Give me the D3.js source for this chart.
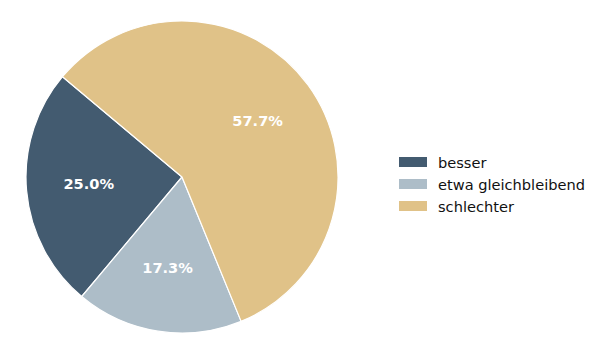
<!DOCTYPE html>
<html>
<head>
<meta charset="utf-8">
<script src="https://cdn.jsdelivr.net/npm/d3@7"></script>
<style>
	body { margin: 0; background: #fff; }
	text { font-family: "DejaVu Sans", sans-serif; }
</style>
</head>
<body>
<div id="wrapper"></div>
<script>
const categories = ["besser", "etwa gleichbleibend", "schlechter"];
const values = [25.0, 17.3, 57.7];
const colors = ["#435b70", "#adbdc8", "#e0c288"];

function drawPie(){
	const dimensions = {
		width: 600,
		height: 354,
		cx: 182,
		cy: 177,
		radius: 156
	};

	const wrapper = d3.select("#wrapper").append("svg")
		.attr("width", dimensions.width)
		.attr("height", dimensions.height);

	const bounds = wrapper.append("g")
		.attr("transform", `translate(${dimensions.cx},${dimensions.cy})`);

	// start at 140deg (math), counterclockwise
	const start = (90 - 140) * Math.PI / 180;
	const pieGen = d3.pie()
		.sort(null)
		.value(d => d)
		.startAngle(start)
		.endAngle(start - 2 * Math.PI);

	const arcs = pieGen(values);

	const arcGen = d3.arc()
		.innerRadius(0)
		.outerRadius(dimensions.radius);

	const labelArc = d3.arc()
		.innerRadius(dimensions.radius * 0.6)
		.outerRadius(dimensions.radius * 0.6);

	bounds.selectAll("path")
		.data(arcs)
		.enter()
		.append("path")
		.attr("d", arcGen)
		.attr("fill", (d, i) => colors[i])
		.attr("stroke", "white")
		.attr("stroke-width", 1.2)
		.attr("stroke-linejoin", "round");

	bounds.selectAll(".pct")
		.data(arcs)
		.enter()
		.append("text")
		.attr("class", "pct")
		.attr("transform", d => `translate(${labelArc.centroid(d)})`)
		.attr("y", -1.5)
		.attr("text-anchor", "middle")
		.attr("dominant-baseline", "central")
		.attr("fill", "white")
		.attr("font-size", "14.6px")
		.attr("font-weight", "bold")
		.text(d => d.data.toFixed(1) + "%");

	const legend = wrapper.append("g")
		.attr("transform", "translate(399,162)");

	const items = legend.selectAll("g")
		.data(categories)
		.enter()
		.append("g")
		.attr("transform", (d, i) => `translate(0,${i * 22})`);

	items.append("rect")
		.attr("x", 0)
		.attr("y", -5)
		.attr("width", 28)
		.attr("height", 10)
		.attr("fill", (d, i) => colors[i]);

	items.append("text")
		.attr("x", 39)
		.attr("y", 0)
		.attr("dominant-baseline", "central")
		.attr("font-size", "14.6px")
		.attr("fill", "#111")
		.text(d => d);
}

drawPie();
</script>
</body>
</html>
